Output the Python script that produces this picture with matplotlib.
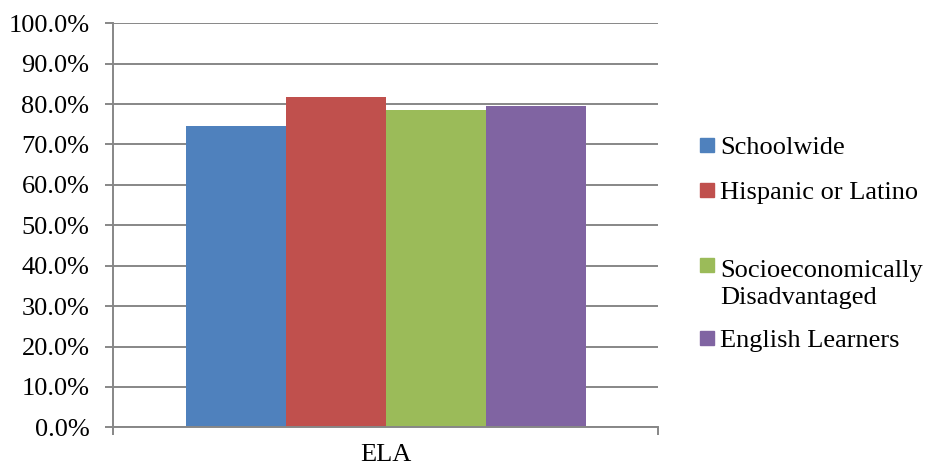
import matplotlib
matplotlib.use("Agg")
import matplotlib.pyplot as plt
from matplotlib.patches import Rectangle
from matplotlib.ticker import FuncFormatter, MultipleLocator

# Share of students meeting the ELA standard, by student group
categories = ["ELA"]
groups = ["Schoolwide", "Hispanic or Latino",
          "Socioeconomically\nDisadvantaged", "English Learners"]
values = [74.6, 81.8, 78.5, 79.5]
colors = ["#4F81BD", "#C0504D", "#9BBB59", "#8064A2"]

plt.rcParams["font.family"] = ["Liberation Serif", "DejaVu Serif"]
FS = 19
GRID = "#878787"

fig = plt.figure(figsize=(9.25, 4.69), dpi=100)
ax = fig.add_axes([113 / 925, 41.7 / 469, 545 / 925, 404 / 469])

gap = 1.45
width = 1.0 / (len(groups) + gap)
start = -len(groups) * width / 2
for i, (g, v, c) in enumerate(zip(groups, values, colors)):
    ax.bar(0 + start + (i + 0.5) * width, v, width=width, color=c,
           edgecolor="none", zorder=3)

ax.set_xlim(-0.5, 0.5)
ax.set_ylim(0, 100)
ax.yaxis.set_major_locator(MultipleLocator(10))
ax.yaxis.set_major_formatter(FuncFormatter(lambda v, p: f"{v:.1f}%"))
ax.grid(axis="y", color=GRID, linewidth=1.4, zorder=0)

ax.set_xticks([0])
ax.set_xticklabels(categories)
ax.set_xticks([-0.5, 0.5], minor=True)
ax.tick_params(axis="x", which="major", length=0, pad=12, labelsize=FS)
ax.tick_params(axis="x", which="minor", length=6, width=1.4, color=GRID)
ax.tick_params(axis="y", length=6, width=1.4, color=GRID, labelsize=FS, pad=11)

for s in ["top", "right"]:
    ax.spines[s].set_visible(False)
for s in ["left", "bottom"]:
    ax.spines[s].set_color(GRID)
    ax.spines[s].set_linewidth(1.4)
    ax.spines[s].set_zorder(4)

# Legend drawn to the right of the plot area
W, H = fig.get_size_inches() * fig.dpi
legend_y = [145, 190, 265, 338]
line_px = 30
for g, c, yp in zip(groups, colors, legend_y):
    fig.patches.append(Rectangle((700 / W, 1 - (yp + 7) / H), 14 / W, 14 / H,
                                 transform=fig.transFigure, color=c))
    extra = (g.count("\n")) * line_px
    fig.text(720 / W, 1 - (yp + 9 + extra) / H, g, fontsize=FS, va="baseline",
             ha="left", linespacing=1.32)

fig.savefig("out.png", dpi=100)
